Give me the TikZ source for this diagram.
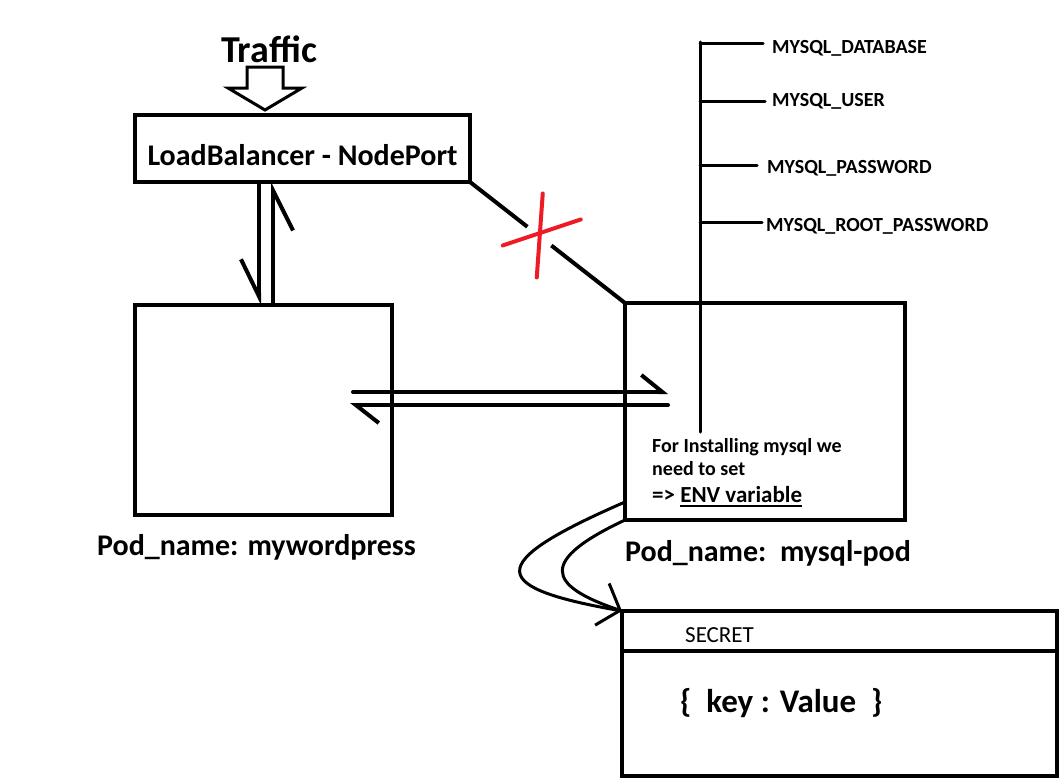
\documentclass[tikz,border=0pt]{standalone}
\usepackage{fontspec}
\setmainfont{Carlito}
\usetikzlibrary{positioning}
\usetikzlibrary{arrows.meta}
\usetikzlibrary{calc}
\definecolor{paintred}{HTML}{ED1C24}
% thick underline under a piece of text
\newcommand\envunderline[1]{\setbox0\hbox{#1}\rlap{\rule[-5pt]{\wd0}{2pt}}\box0}
\tikzset {
  % drawn boxes
  box/.style = {
    draw = black,
    line width = 4pt,
    rectangle,
    anchor = north west,
    inner sep = 0,
    outer sep = 0
  },
  caption/.style = {
    font = \fontsize{30}{36}\selectfont\bfseries,
    inner sep = 0
  },
  small text/.style = {
    font = \fontsize{20}{23}\selectfont\bfseries,
    inner sep = 0
  },
  env name/.style = {
    small text,
    anchor = base west
  },
  node distance = 20pt
}
\tikzset {
  link/.style = {
    draw = black,
    line width = 4pt,
    line cap = round
  },
  thin link/.style = {
    link,
    line width = 3pt
  },
  % half arrow tips
  harpoon left/.style 2 args = {
    link,
    -{Straight Barb[harpoon, length = #1, width = #2]}
  },
  harpoon right/.style 2 args = {
    link,
    -{Straight Barb[harpoon, swap, length = #1, width = #2]}
  },
  cross/.style = {
    draw = paintred,
    line width = 4pt,
    line cap = round
  },
  hollow arrow/.style = {
    draw = black,
    line width = 3pt,
    line join = miter
  }
}

\begin{document}
\begin{tikzpicture}[x = 1pt, y = -1pt]
    \useasboundingbox (0,0) rectangle (1064,779);

    \node[box, minimum width = 335pt, minimum height = 67pt,
      label = {[caption, yshift = -7pt]center:LoadBalancer - NodePort}]
      (lb) at (135,115) {};
    \node[box, minimum width = 257pt, minimum height = 210pt] (wordpress) at (135,305) {};
    \node[box, minimum width = 280pt, minimum height = 217pt] (mysql) at (625,303) {};
    \node[box, minimum width = 435pt, minimum height = 165pt] (secret) at (622,611) {};

    \node[caption] (wordpress-name) [below = 19pt of wordpress, xshift = -7pt] {Pod\_name: mywordpress};
    \node[caption] (mysql-name) [below = 20pt of mysql, xshift = 3pt] {Pod\_name:\ \ mysql-pod};
    \node[font = \fontsize{38}{44}\selectfont\bfseries, inner sep = 0, anchor = base]
      (traffic) at (269,62) {Traffic};

    % traffic into the load balancer
    \coordinate (traffic-tip) at (265,110);
    \draw[hollow arrow] (traffic-tip)
    -- ++(-37,-22)
    -- ++(19,0)
    -- ++(0,-21)
    -- ++(36,0)
    -- ++(0,21)
    -- ++(19,0)
    -- cycle;

    % environment variables
    \coordinate (env-top) at (700,42);
    \coordinate (env-bottom) at (700,432);
    \draw[thin link] (env-top) -- (env-bottom);
    \foreach \n/\y/\ex/\lx/\by/\t in {
      database/43/763/772/53/MYSQL\_DATABASE,
      user/101/765/772/106/MYSQL\_USER,
      password/165/757/767/173/MYSQL\_PASSWORD,
      root/222/762/766/231/MYSQL\_ROOT\_PASSWORD} {
      \node[env name] (env-\n) at (\lx,\by) {\t};
      \coordinate (env-\n-end) at (\ex,\y);
      \draw[thin link] (env-top |- env-\n-end) -- (env-\n-end);
    }

    \node[small text, align = left, anchor = north west] (mysql-note) at (652,438)
      {For Installing mysql we\\need to set\\[4pt]{\fontsize{23}{23}\selectfont => \envunderline{ENV variable}}};

    % secret box
    \coordinate (secret-split) at (622,651);
    \draw[link, line cap = butt] (secret-split) -- (secret-split -| secret.east);
    \node[font = \fontsize{23}{28}\selectfont, inner sep = 0, anchor = base west]
      (secret-title) at (685,642) {SECRET};
    \node[font = \fontsize{33}{38}\selectfont\bfseries, inner sep = 0, anchor = base west]
      (secret-pair) at (680,712) {\{\ \ key : Value\ \ \}};

    % load balancer <-> wordpress
    \coordinate (lb-down) at (259,0);
    \coordinate (lb-up) at (273,0);
    \draw[harpoon right = {37pt}{36pt}] (lb.south -| lb-down) -- (wordpress.north -| lb-down);
    \draw[harpoon right = {40pt}{40pt}] (wordpress.north -| lb-up) -- (lb.south -| lb-up);

    % wordpress <-> mysql
    \coordinate (wp-out) at (353,392);
    \coordinate (sql-in) at (668,392);
    \coordinate (sql-out) at (668,405);
    \coordinate (wp-in) at (350,405);
    \draw[harpoon left = {21pt}{34pt}] (wp-out) -- (sql-in);
    \draw[harpoon left = {23pt}{36pt}] (sql-out) -- (wp-in);

    % blocked link
    \coordinate (cut) at ($(lb.south east)!0.45!(mysql.north west)$);
    \draw[link, line cap = butt] (lb.south east) -- ($(lb.south east)!0.37!(mysql.north west)$);
    \draw[link, line cap = butt] ($(lb.south east)!0.525!(mysql.north west)$) -- (mysql.north west);
    \draw[cross] ($(cut)+(3,-43)$) -- ($(cut)+(-3,41)$);
    \draw[cross] ($(cut)+(-37,9)$) -- ($(cut)+(41,-17)$);

    % env variables into the secret
    \coordinate (note-out) at (625,502);
    \draw[thin link] (note-out)
    .. controls (480,565) and (490,588) .. (secret.north west);
    \draw[thin link, -{Straight Barb[length = 19pt, width = 44pt]}] (mysql.south west)
    .. controls (540,560) and (545,585) .. (secret.north west);
  \end{tikzpicture}
\end{document}
